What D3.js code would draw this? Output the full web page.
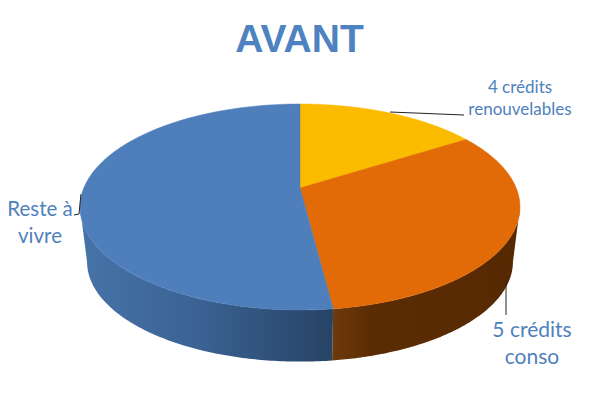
<!DOCTYPE html>
<html><head><meta charset="utf-8">
<script src="https://cdn.jsdelivr.net/npm/d3@7"></script>
<style>html,body{margin:0;padding:0;background:#fff}svg{display:block}text{font-family:Lato,"Open Sans",sans-serif}</style>
</head><body><svg id="c" width="600" height="400"></svg>
<script>
const titleText = "AVANT";
const categories = ["4 crédits renouvelables", "5 crédits conso", "Reste à vivre"];
const values = [16, 32, 52];
const topColors = ["#fbbc00", "#e26b07", "#4e7fbb"];
const labelLines = [["4 crédits","renouvelables"],["5 crédits","conso"],["Reste à","vivre"]];

const svg = d3.select("#c");
const K = -0.1845, A = 99.5, B = 216.2;
function project(angle, cx, cy, s){
  const u = Math.sin(angle), v = -Math.cos(angle), w = 1 + K*v;
  return [cx + s*B*u/w, cy + s*A*v/w];
}
const topPt = a => project(a, 300, 188, 1);
const bottomPt = a => project(a, 300, 243.5, 0.968);
const line = d3.line();
const arcs = d3.pie().sort(null)(values);
const steps = (a0,a1) => d3.range(0,121).map(i => a0 + (a1-a0)*i/120);

// visible wall runs between the two silhouette tangents of the disc
const tangentR = Math.PI/2 + Math.asin(-K), tangentL = 2*Math.PI - tangentR;

const defs = svg.append("defs");
function grad(id, x1, x2, stops){
  const g = defs.append("linearGradient").attr("id",id).attr("gradientUnits","userSpaceOnUse")
    .attr("x1",x1).attr("x2",x2).attr("y1",0).attr("y2",0);
  stops.forEach(([o,c]) => g.append("stop").attr("offset",o).attr("stop-color",c));
}
grad("side1",333,520,[[0,"#6e3a0a"],[0.2,"#5b2c04"],[1,"#572902"]]);
grad("side2",80,333,[[0,"#4673a9"],[0.45,"#3b6394"],[1,"#274365"]]);

const visible = arcs.map((d,i)=>({i,a0:Math.max(d.startAngle,tangentR),a1:Math.min(d.endAngle,tangentL)})).filter(d=>d.a1>d.a0);
svg.append("g").selectAll("path").data(visible).join("path")
  .attr("fill",d=>`url(#side${d.i})`)
  .attr("d",d=>{
    const s = steps(d.a0,d.a1);
    return line(s.map(topPt).concat(s.slice().reverse().map(bottomPt)))+"Z";
  });
svg.append("g").selectAll("path").data(arcs).join("path")
  .attr("fill",(d,i)=>topColors[i]).attr("stroke",(d,i)=>topColors[i]).attr("stroke-width",0.5)
  .attr("d",d=>line([[300,188]].concat(steps(d.startAngle,d.endAngle).map(topPt)))+"Z");

const leaders = [[[390,112],[464,115]],[[506,280],[506,315]],[[81,194],[79,214],[74,215]]];
svg.append("g").selectAll("path").data(leaders).join("path")
  .attr("fill","none").attr("stroke","#222").attr("stroke-width",1).attr("d",line);

svg.append("text").attr("x",299.5).attr("y",52).attr("text-anchor","middle")
  .style("font-family","'Liberation Sans',Arial,sans-serif")
  .attr("font-size",39).attr("font-weight",700).attr("fill","#4f82c0").text(titleText);

const labelPos = [[520,93,17,22],[532,337,21,27],[40,216,20.5,27]];
labelLines.forEach((ls,i)=>{
  const [x,y,fs,lh] = labelPos[i];
  ls.forEach((t,j)=>svg.append("text").attr("x",x).attr("y",y+j*lh).attr("text-anchor","middle")
    .attr("font-size",fs).attr("fill","#4f81bd").text(t));
});
</script></body></html>
